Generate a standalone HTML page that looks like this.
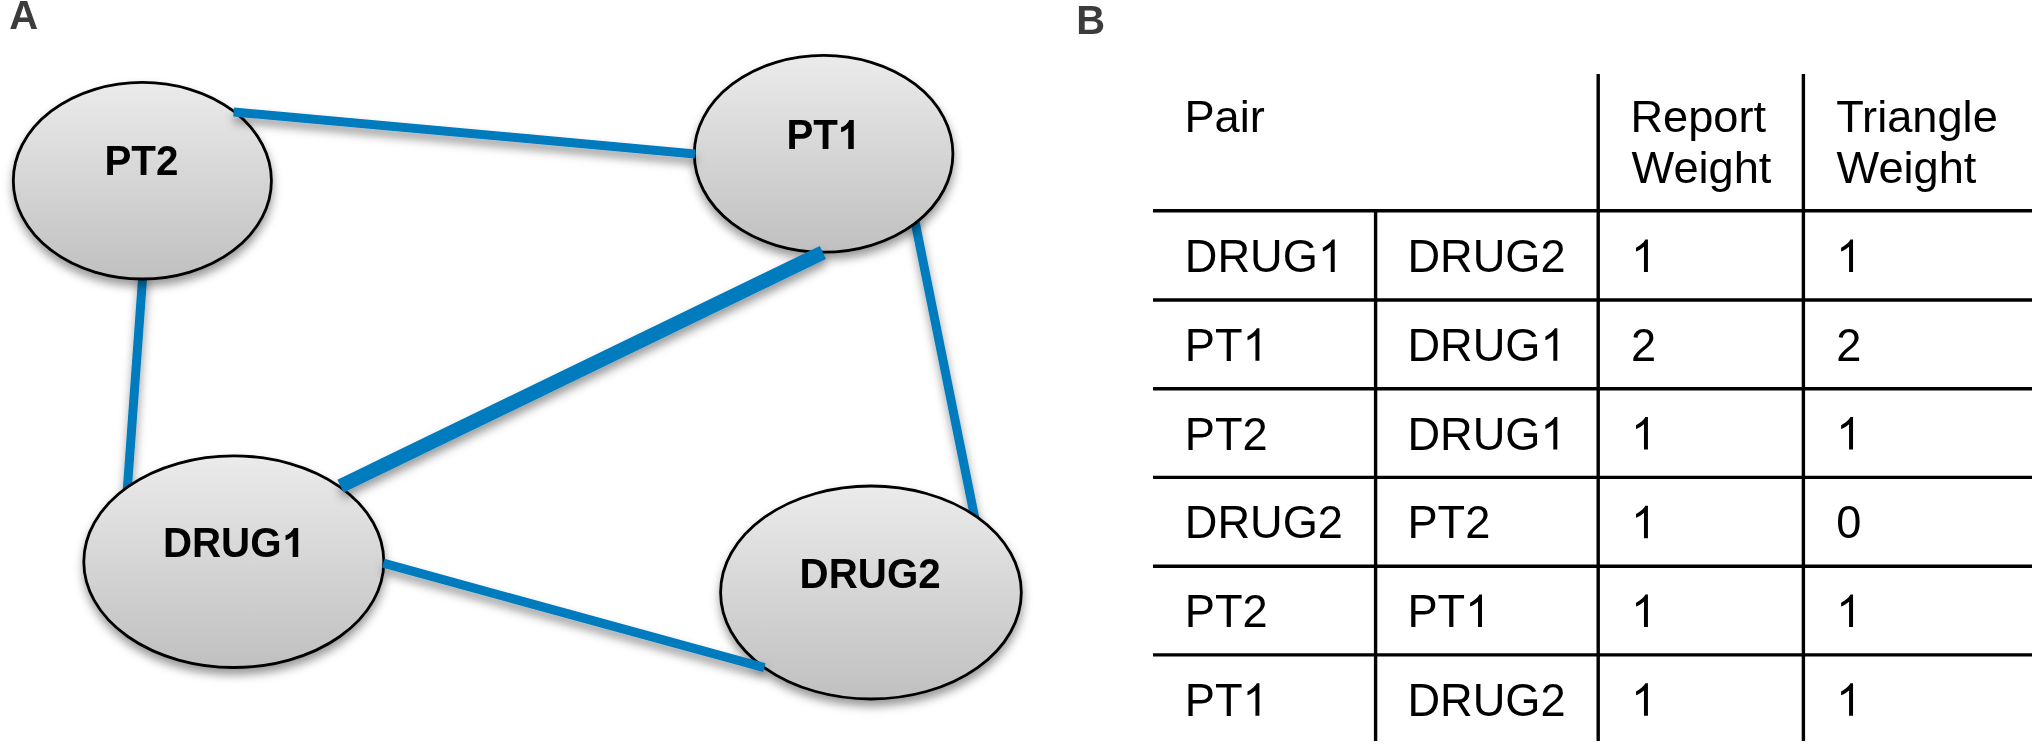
<!DOCTYPE html>
<html>
<head>
<meta charset="utf-8">
<title>Figure</title>
<style>
  html, body { margin: 0; padding: 0; background: #ffffff; }
  body { width: 2032px; height: 744px; overflow: hidden; font-family: "Liberation Sans", sans-serif; }
  svg { display: block; }
  text { font-family: "Liberation Sans", sans-serif; }
  .lbl { font-weight: bold; font-size: 40.0px; fill: #3c3c3c; }
  .node { font-weight: bold; font-size: 40.3px; fill: #000000; }
  .cell { font-size: 45.2px; fill: #000000; }
</style>
</head>
<body>
<svg width="2032" height="744" viewBox="0 0 2032 744">
  <defs>
    <linearGradient id="g" x1="0" y1="0" x2="0" y2="1">
      <stop offset="0" stop-color="#ebebeb"/>
      <stop offset="1" stop-color="#c0c0c0"/>
    </linearGradient>
    <filter id="sh" x="0" y="0" width="1100" height="744" filterUnits="userSpaceOnUse">
      <feDropShadow dx="0.5" dy="6" stdDeviation="5" flood-color="#000000" flood-opacity="0.40"/>
    </filter>
    <filter id="shl" x="0" y="0" width="1100" height="744" filterUnits="userSpaceOnUse">
      <feDropShadow dx="0.5" dy="6" stdDeviation="5" flood-color="#000000" flood-opacity="0.40"/>
    </filter>
  </defs>
  <g opacity="0.999">
  <text class="lbl" x="9.3" y="29.3">A</text>
  <text class="lbl" x="1076.3" y="33.9">B</text>
  </g>
  <!-- graph -->
  <g stroke="#007cbe" fill="none" filter="url(#shl)">
<line x1="142.95" y1="273" x2="126.6" y2="499" stroke-width="9.0"/>
<line x1="913.7" y1="215" x2="976.2" y2="525" stroke-width="9.0"/>
</g>
<g fill="url(#g)" stroke="#000" stroke-width="2.8" filter="url(#sh)">
<ellipse cx="142.35" cy="180.7" rx="129.05" ry="98.3"/>
<ellipse cx="823.6" cy="153.8" rx="129.3" ry="98.4"/>
<ellipse cx="233.8" cy="561.7" rx="150.0" ry="105.8"/>
<ellipse cx="870.95" cy="592.5" rx="150.35" ry="106.5"/>
</g>
<g stroke="#007cbe" fill="none" filter="url(#shl)">
<line x1="233.6" y1="111.9" x2="695" y2="153.9" stroke-width="9.0"/>
<line x1="383.3" y1="563.2" x2="764.4" y2="667.7" stroke-width="9.0"/>
<line x1="340.5" y1="486.15" x2="822.9" y2="252.45" stroke-width="14.3"/>
</g>
<g opacity="0.999">
<text class="node" transform="translate(104.40 175.40) scale(1 1.037)">PT2</text>
<text class="node" transform="translate(786.40 149.00) scale(1 1.037)">PT</text><path d="M806 0H525V1059Q371 915 162 846V1101Q272 1137 401 1237.5Q530 1338 578 1472H806Z" transform="translate(837.90 149.00) scale(0.01968 -0.01968)" fill="#000"/>
<text class="node" transform="translate(162.90 557.00) scale(1 1.037)">DRUG</text><path d="M806 0H525V1059Q371 915 162 846V1101Q272 1137 401 1237.5Q530 1338 578 1472H806Z" transform="translate(282.34 557.00) scale(0.01968 -0.01968)" fill="#000"/>
<text class="node" transform="translate(799.60 588.00) scale(1 1.037)">DRUG2</text>
</g>
  <!-- table -->
  <g opacity="0.999">
  <g stroke="#000" stroke-width="3.4" fill="none">
<line x1="1153.0" y1="210.7" x2="2032" y2="210.7"/>
<line x1="1153.0" y1="300.0" x2="2032" y2="300.0"/>
<line x1="1153.0" y1="388.7" x2="2032" y2="388.7"/>
<line x1="1153.0" y1="477.4" x2="2032" y2="477.4"/>
<line x1="1153.0" y1="566.2" x2="2032" y2="566.2"/>
<line x1="1153.0" y1="654.9" x2="2032" y2="654.9"/>
<line x1="1375.6" y1="210.7" x2="1375.6" y2="741"/>
<line x1="1598.2" y1="74" x2="1598.2" y2="741"/>
<line x1="1803.4" y1="74" x2="1803.4" y2="741"/>
</g>
<text class="cell" transform="translate(1184.40 131.50) scale(1 1.0)">Pair</text>
<text class="cell" transform="translate(1630.40 131.50) scale(1 1.0)">Report</text>
<text class="cell" transform="translate(1631.60 182.60) scale(1 1.0)">Weight</text>
<text class="cell" transform="translate(1836.20 131.50) scale(1 1.0)">Triangle</text>
<text class="cell" transform="translate(1836.60 182.60) scale(1 1.0)">Weight</text>
<text class="cell" transform="translate(1184.80 272.00) scale(1 1.037)">DRUG</text><path d="M763 0H583V1147Q518 1085 412.5 1023Q307 961 223 930V1104Q374 1175 487 1276Q600 1377 647 1472H763Z" transform="translate(1317.87 272.00) scale(0.02207 -0.02207)" fill="#000"/>
<text class="cell" transform="translate(1407.40 272.00) scale(1 1.037)">DRUG2</text>
<path d="M763 0H583V1147Q518 1085 412.5 1023Q307 961 223 930V1104Q374 1175 487 1276Q600 1377 647 1472H763Z" transform="translate(1631.10 272.00) scale(0.02207 -0.02207)" fill="#000"/>
<path d="M763 0H583V1147Q518 1085 412.5 1023Q307 961 223 930V1104Q374 1175 487 1276Q600 1377 647 1472H763Z" transform="translate(1836.20 272.00) scale(0.02207 -0.02207)" fill="#000"/>


<text class="cell" transform="translate(1184.80 360.75) scale(1 1.037)">PT</text><path d="M763 0H583V1147Q518 1085 412.5 1023Q307 961 223 930V1104Q374 1175 487 1276Q600 1377 647 1472H763Z" transform="translate(1242.57 360.75) scale(0.02207 -0.02207)" fill="#000"/>
<text class="cell" transform="translate(1407.40 360.75) scale(1 1.037)">DRUG</text><path d="M763 0H583V1147Q518 1085 412.5 1023Q307 961 223 930V1104Q374 1175 487 1276Q600 1377 647 1472H763Z" transform="translate(1540.47 360.75) scale(0.02207 -0.02207)" fill="#000"/>
<text class="cell" transform="translate(1631.10 360.75) scale(1 1.037)">2</text>
<text class="cell" transform="translate(1836.20 360.75) scale(1 1.037)">2</text>


<text class="cell" transform="translate(1184.80 449.50) scale(1 1.037)">PT2</text>
<text class="cell" transform="translate(1407.40 449.50) scale(1 1.037)">DRUG</text><path d="M763 0H583V1147Q518 1085 412.5 1023Q307 961 223 930V1104Q374 1175 487 1276Q600 1377 647 1472H763Z" transform="translate(1540.47 449.50) scale(0.02207 -0.02207)" fill="#000"/>
<path d="M763 0H583V1147Q518 1085 412.5 1023Q307 961 223 930V1104Q374 1175 487 1276Q600 1377 647 1472H763Z" transform="translate(1631.10 449.50) scale(0.02207 -0.02207)" fill="#000"/>
<path d="M763 0H583V1147Q518 1085 412.5 1023Q307 961 223 930V1104Q374 1175 487 1276Q600 1377 647 1472H763Z" transform="translate(1836.20 449.50) scale(0.02207 -0.02207)" fill="#000"/>


<text class="cell" transform="translate(1184.80 538.25) scale(1 1.037)">DRUG2</text>
<text class="cell" transform="translate(1407.40 538.25) scale(1 1.037)">PT2</text>
<path d="M763 0H583V1147Q518 1085 412.5 1023Q307 961 223 930V1104Q374 1175 487 1276Q600 1377 647 1472H763Z" transform="translate(1631.10 538.25) scale(0.02207 -0.02207)" fill="#000"/>
<text class="cell" transform="translate(1836.20 538.25) scale(1 1.037)">0</text>


<text class="cell" transform="translate(1184.80 627.00) scale(1 1.037)">PT2</text>
<text class="cell" transform="translate(1407.40 627.00) scale(1 1.037)">PT</text><path d="M763 0H583V1147Q518 1085 412.5 1023Q307 961 223 930V1104Q374 1175 487 1276Q600 1377 647 1472H763Z" transform="translate(1465.17 627.00) scale(0.02207 -0.02207)" fill="#000"/>
<path d="M763 0H583V1147Q518 1085 412.5 1023Q307 961 223 930V1104Q374 1175 487 1276Q600 1377 647 1472H763Z" transform="translate(1631.10 627.00) scale(0.02207 -0.02207)" fill="#000"/>
<path d="M763 0H583V1147Q518 1085 412.5 1023Q307 961 223 930V1104Q374 1175 487 1276Q600 1377 647 1472H763Z" transform="translate(1836.20 627.00) scale(0.02207 -0.02207)" fill="#000"/>


<text class="cell" transform="translate(1184.80 715.75) scale(1 1.037)">PT</text><path d="M763 0H583V1147Q518 1085 412.5 1023Q307 961 223 930V1104Q374 1175 487 1276Q600 1377 647 1472H763Z" transform="translate(1242.57 715.75) scale(0.02207 -0.02207)" fill="#000"/>
<text class="cell" transform="translate(1407.40 715.75) scale(1 1.037)">DRUG2</text>
<path d="M763 0H583V1147Q518 1085 412.5 1023Q307 961 223 930V1104Q374 1175 487 1276Q600 1377 647 1472H763Z" transform="translate(1631.10 715.75) scale(0.02207 -0.02207)" fill="#000"/>
<path d="M763 0H583V1147Q518 1085 412.5 1023Q307 961 223 930V1104Q374 1175 487 1276Q600 1377 647 1472H763Z" transform="translate(1836.20 715.75) scale(0.02207 -0.02207)" fill="#000"/>


  </g>
</svg>
</body>
</html>
